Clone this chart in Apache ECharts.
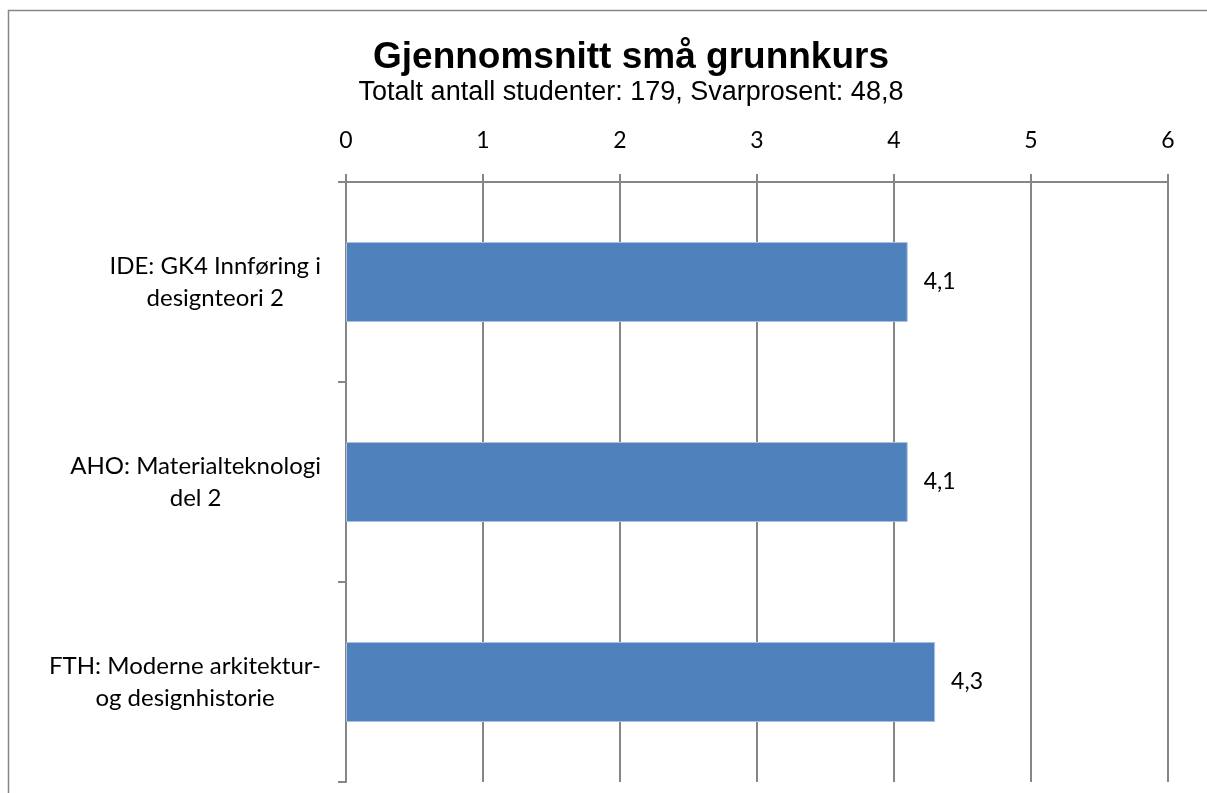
<!DOCTYPE html>
<html>
<head>
<meta charset="utf-8">
<script src="https://cdn.jsdelivr.net/npm/echarts@6/dist/echarts.min.js"></script>
<style>
  html, body { margin: 0; padding: 0; background: #fff; }
  #chart { width: 1207px; height: 793px; }
</style>
</head>
<body>
<div id="chart"></div>
<script>
// data
var categories = [
  ['IDE: GK4 Innføring i', 'designteori 2'],
  ['AHO: Materialteknologi', 'del 2'],
  ['FTH: Moderne arkitektur-', 'og designhistorie']
];
var values = [4.1, 4.1, 4.3];
var ticks = [0, 1, 2, 3, 4, 5, 6];

var grey = '#868686';
var bodyFont = 'Lato';

var chart = echarts.init(document.getElementById('chart'));

var option = {
  animation: false,
  title: [{
    text: 'Gjennomsnitt små grunnkurs',
    left: 626,
    top: 34,
    textAlign: 'center',
    textStyle: { fontFamily: 'Liberation Sans', fontWeight: 'bold', fontSize: 37, color: '#000' }
  }, {
    text: 'Totalt antall studenter: 179, Svarprosent: 48,8',
    left: 626,
    top: 74,
    textAlign: 'center',
    textStyle: { fontFamily: 'Liberation Sans', fontWeight: 'normal', fontSize: 27, color: '#000' }
  }],
  graphic: [{
    type: 'rect',
    shape: { x: 8.5, y: 10.5, width: 1400, height: 1000 },
    style: { fill: 'none', stroke: grey, lineWidth: 1.5 },
    silent: true
  }],
  grid: { left: 346, right: 39, top: 182, bottom: 11 },
  xAxis: {
    type: 'value',
    position: 'top',
    min: ticks[0],
    max: ticks[ticks.length - 1],
    interval: 1,
    axisLine: { show: true, lineStyle: { color: grey, width: 2 } },
    axisTick: { show: true, length: 8, lineStyle: { color: grey, width: 2 } },
    axisLabel: {
      margin: 30,
      fontFamily: bodyFont, fontSize: 23, color: '#000',
      formatter: function (v) { return String(v); }
    },
    splitLine: { show: true, lineStyle: { color: grey, width: 2 } }
  },
  yAxis: {
    type: 'category',
    inverse: true,
    data: categories.map(function (c) { return c.join('\n'); }),
    axisLine: { show: true, lineStyle: { color: grey, width: 2 } },
    axisTick: { show: true, length: 8, lineStyle: { color: grey, width: 2 } },
    axisLabel: {
      margin: 25,
      formatter: function (v) {
        return v.split('\n').map(function (s) { return '{c|' + s + '}'; }).join('\n');
      },
      rich: {
        c: { align: 'center', fontFamily: bodyFont, fontSize: 24, color: '#000', lineHeight: 32 }
      }
    },
    splitLine: { show: false }
  },
  series: [{
    type: 'bar',
    data: values,
    barWidth: 80,
    itemStyle: { color: '#4F81BD', borderColor: '#A7C0DE', borderWidth: 1 },
    label: {
      show: true,
      position: 'right',
      distance: 16,
      fontFamily: bodyFont, fontSize: 23, color: '#000',
      formatter: function (p) { return String(p.value).replace('.', ','); }
    }
  }]
};

chart.setOption(option);
</script>
</body>
</html>
